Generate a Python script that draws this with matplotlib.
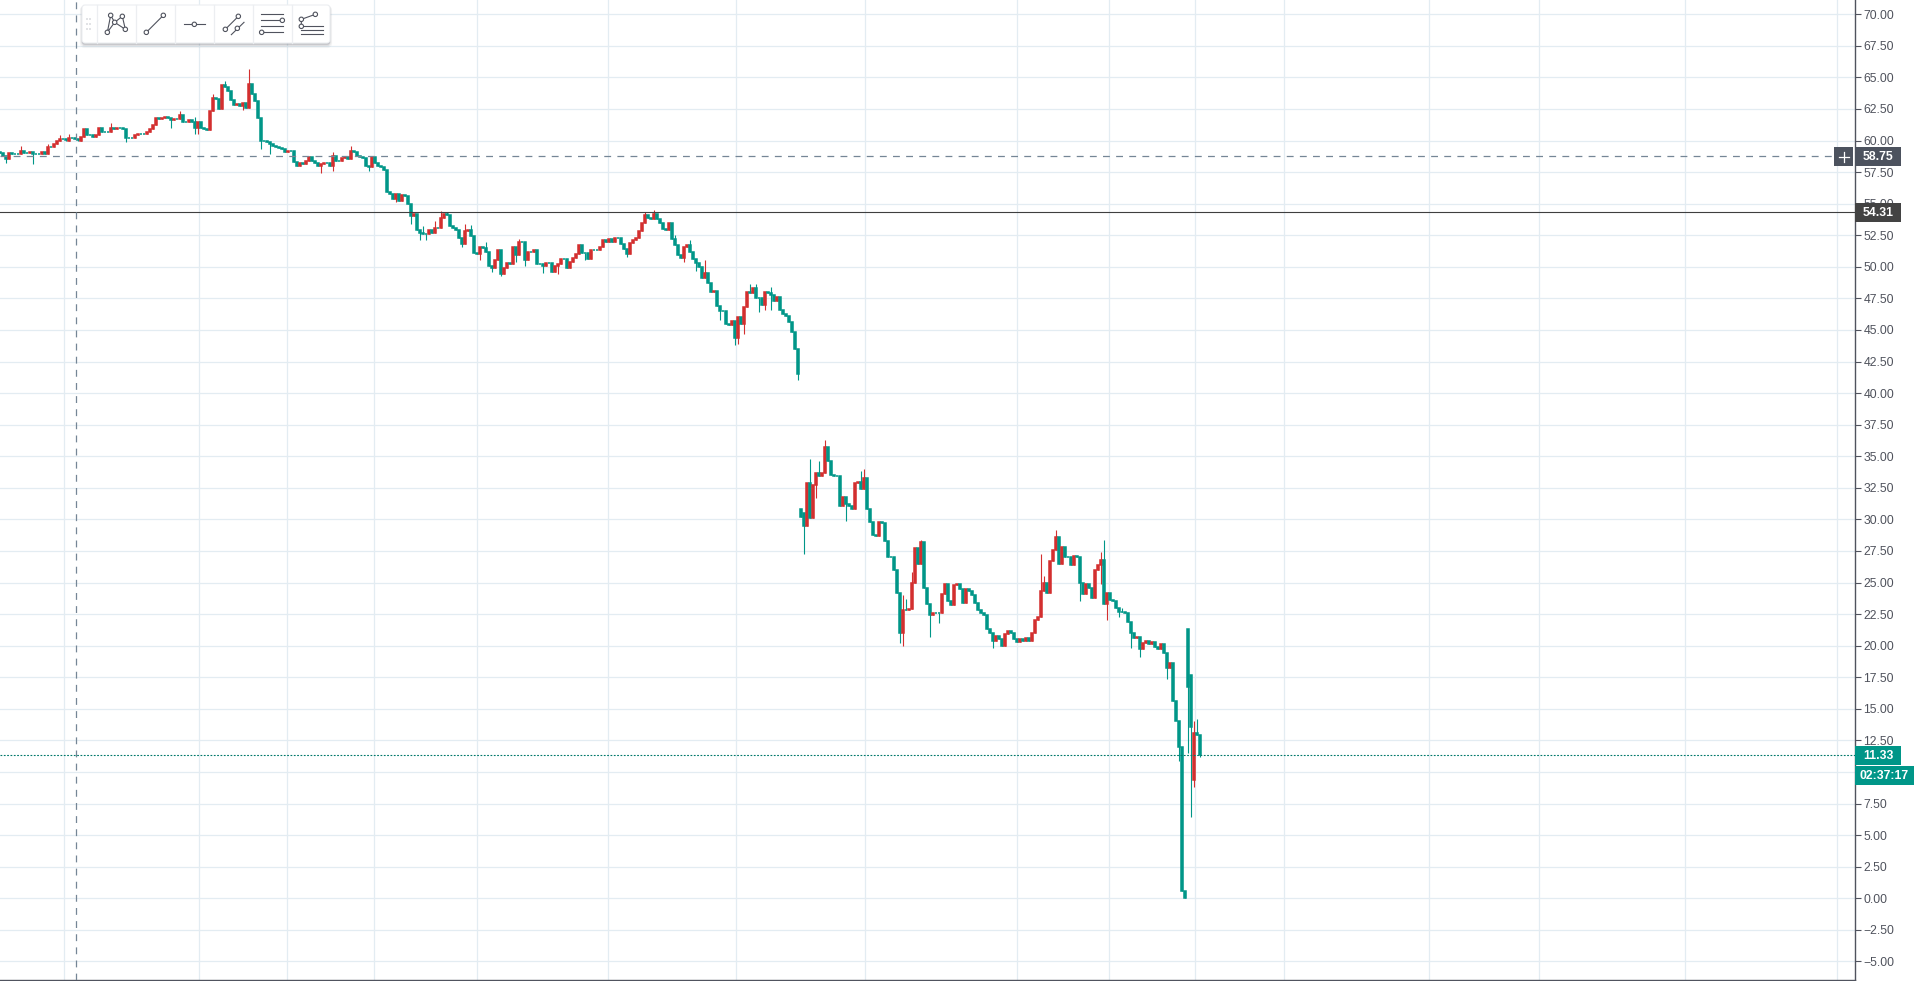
import matplotlib

matplotlib.use("Agg")
import matplotlib.pyplot as plt
import numpy as np
from matplotlib.patches import Circle, FancyBboxPatch, Rectangle

TEAL = "#009688"
RED = "#d32f2f"
GRID = "#e3ecf2"
AXIS = "#50535e"
CROSS = "#758696"

# closes per bar (one bar = 3 screen px)
closes = [
    59.0, 58.8, 58.5, 59.0, 58.9, 58.9, 58.9, 59.2, 59.0, 59.0, 59.1, 58.9, 58.9, 58.9, 59.1, 58.9,
    59.5, 59.5, 59.7, 60.0, 60.1, 60.1, 60.0, 60.2, 60.2, 60.1, 60.0, 60.3, 60.9, 60.4, 60.4, 60.3,
    60.4, 61.0, 60.7, 60.7, 60.7, 61.0, 60.9, 61.0, 61.0, 60.9, 60.2, 60.2, 60.2, 60.4, 60.5,
    60.5, 60.5, 60.7, 60.9, 61.2, 61.8, 61.7, 61.8, 61.9, 61.8, 61.6, 61.7, 61.7, 62.0, 61.5, 61.5,
    61.6, 61.5, 61.0, 61.5, 61.0, 60.9, 60.8, 62.3, 63.4, 63.3, 62.5, 64.4, 64.2, 63.9, 63.2, 62.8,
    62.9, 62.7, 63.0, 62.6, 64.5, 63.7, 63.1, 61.8, 60.0, 60.0, 59.9, 59.7, 59.6, 59.5, 59.4, 59.3, 59.1,
    59.2, 59.2, 58.3, 58.0, 58.2, 58.1, 58.4, 58.7, 58.4, 58.2, 58.0, 58.1, 58.2, 58.2, 58.0, 58.8,
    58.4, 58.4, 58.6, 58.7, 58.5, 59.2, 59.1, 58.8, 58.7, 58.6, 58.0, 57.9, 58.7, 58.2, 58.0, 57.9,
    57.7, 55.9, 55.8, 55.4, 55.8, 55.2, 55.7, 55.6, 55.0, 54.0, 54.2,
    52.9, 52.7, 52.6, 52.6, 52.9, 52.7, 53.1, 53.1, 53.9, 54.2, 54.1, 53.2, 53.1, 52.9, 52.3, 51.8,
    52.8, 52.9, 52.4, 51.1, 51.0, 51.6, 51.5, 51.2, 50.1, 49.9, 50.5, 51.3, 49.4, 49.9, 50.3, 50.2,
    51.6, 50.9, 52.0, 52.0, 50.5, 51.2, 51.2, 51.3, 50.2, 50.2, 50.1, 50.3, 50.3, 49.6, 50.1, 50.2,
    50.6, 50.6, 49.9, 50.4, 50.7, 51.0, 51.7, 51.1, 51.1, 50.6, 51.3, 51.3, 51.3, 51.6, 52.1, 52.0,
    52.2, 52.0, 52.3, 52.3,
    51.8, 51.4, 51.0, 51.9, 52.1, 52.3, 52.8, 53.5, 54.1, 53.9, 53.8, 54.2, 53.8, 53.5, 53.0, 52.9,
    53.5, 52.2, 51.7, 50.9, 50.7, 51.6, 51.7, 51.2, 50.6, 50.3, 50.0, 49.1, 49.5, 48.7, 48.0, 48.1,
    46.9, 46.5, 46.5, 45.5, 45.4, 45.7, 44.4, 46.0, 45.5, 46.8, 48.0, 47.9, 48.3, 47.5, 47.5, 47.0,
    48.0, 47.9, 47.8, 47.3, 47.6, 46.6, 46.3, 46.1, 45.6, 44.8, 43.5, 41.5,
    30.2, 29.5, 32.9, 30.1, 32.7, 33.7, 33.4, 33.7, 35.7, 34.6, 33.5, 33.4, 33.4, 31.1, 31.8, 31.2,
    31.1, 30.8, 32.9, 33.0, 32.4, 33.3, 30.8, 29.8, 28.8, 28.7, 29.8, 29.7, 28.3, 27.0, 27.0, 26.0,
    24.2, 21.0, 22.8, 22.8, 22.9, 25.0, 27.7, 26.5, 28.2, 24.6, 23.3, 22.4, 22.6, 22.6, 22.6, 24.1,
    24.9, 23.5, 23.2, 24.8, 24.9, 24.5, 23.4, 24.5, 24.3, 24.0, 23.4, 22.8, 22.6, 22.4, 21.3, 21.0,
    20.4, 20.8, 20.5, 20.0, 20.9, 21.2, 21.0, 20.5, 20.3, 20.5, 20.4, 20.6, 20.4, 21.0, 22.0, 22.3,
    24.3, 25.0, 24.2, 26.7, 27.6, 28.6, 26.5, 27.8, 27.0, 27.0, 26.4, 27.1, 27.0, 25.0, 24.1, 24.9,
    24.6, 23.8, 26.0, 26.4, 26.8, 23.3, 24.2, 23.6, 23.5, 23.0, 22.7,
    22.7, 22.6, 21.9, 21.0, 20.6, 20.7, 19.7, 20.2, 20.4, 20.1, 20.3, 19.9, 19.7, 20.1, 19.4, 18.2,
    18.6, 15.6, 14.0, 12.0, 0.6, 0.0, 16.7, 13.6, 13.1, 12.9, 11.33,
]
first_open = 59.1
# bars whose open does not sit on the previous close
open_jumps = {267: 30.8, 268: 30.5, 396: 21.3, 397: 17.7, 398: 9.4, 399: 13.1}
# wicks that stick out of the body, bar: price
wick_highs = {
    7: 59.6, 16: 59.7, 20: 60.4, 23: 60.5, 37: 61.4, 60: 62.3, 65: 61.9, 71: 63.7, 75: 64.7, 83: 65.7,
    111: 59.1, 117: 59.6, 141: 53.2, 145: 53.6, 147: 54.4, 149: 54.3, 155: 53.4, 157: 53.3, 162: 52.0,
    173: 52.2, 215: 54.3, 218: 54.5, 225: 52.5, 230: 52.1, 235: 50.5, 250: 48.6, 252: 48.6, 257: 48.4,
    270: 34.8, 273: 34.6, 275: 36.3, 287: 33.8, 288: 34.0, 301: 24.0, 302: 23.7, 304: 25.8, 306: 27.2,
    307: 28.4, 347: 27.3, 348: 25.5, 352: 29.2, 367: 27.4, 368: 28.4, 374: 23.0, 398: 14.0, 399: 14.2,
}
wick_lows = {
    2: 58.2, 11: 58.1, 42: 59.9, 57: 61.0, 65: 60.5, 66: 60.5, 81: 62.4, 87: 59.3, 90: 58.9, 107: 57.4,
    111: 57.6, 123: 57.6, 132: 55.1, 137: 53.4, 140: 52.1, 142: 52.1, 154: 51.6, 160: 50.5, 164: 49.6,
    167: 49.3, 172: 50.4, 175: 50.1, 181: 49.5, 186: 49.4, 195: 50.5, 209: 50.8, 228: 50.4, 232: 49.7,
    240: 45.8, 245: 43.8, 246: 43.9, 248: 44.7, 253: 46.4, 255: 46.6, 257: 46.6, 266: 41.0, 268: 27.3,
    272: 31.7, 282: 29.9, 300: 20.2, 301: 20.0, 310: 20.7, 313: 21.8, 331: 19.8, 360: 23.5, 367: 24.9,
    369: 22.0, 373: 22.3, 377: 19.8, 380: 19.1, 389: 17.4, 392: 14.5, 393: 10.9, 396: 11.5, 397: 6.4,
    398: 8.8, 400: 11.2,
}
price_ticks = np.arange(-5, 70.1, 2.5)
time_grid = [64, 199, 287, 374, 477, 608, 736, 865, 1017, 1109, 1195, 1284, 1429, 1539, 1685, 1837]
cross_price = 58.75
line_price = 54.31
last_price = 11.33
countdown = "02:37:17"

closes = np.array(closes)
opens = np.r_[first_open, closes[:-1]]
for bar, value in open_jumps.items():
    opens[bar] = value
highs = np.maximum(opens, closes)
lows = np.minimum(opens, closes)
for bar, value in wick_highs.items():
    highs[bar] = value
for bar, value in wick_lows.items():
    lows[bar] = value
bars = np.arange(len(closes))
colors = [RED if c > o else TEAL for o, c in zip(opens, closes)]

plt.rcParams["font.family"] = ["Liberation Sans", "DejaVu Sans"]
fig = plt.figure(figsize=(19.18, 9.81), dpi=100)
ax = fig.add_axes([0, 1 / 981, 1854.5 / 1918, 980 / 981])
ax.set_xlim(0, 1854.5 / 3)
ax.set_ylim((898.3 - 980) / 12.63, 898.3 / 12.63)

ax.set_axisbelow(True)
for t in time_grid:
    ax.axvline(t / 3, color=GRID, lw=0.9, zorder=0)
for p in price_ticks:
    ax.axhline(p, color=GRID, lw=0.9, zorder=0)

ax.vlines(bars, lows, highs, colors=colors, lw=0.8, zorder=2)
# the edge keeps small bodies as thick as the ones in the chart
ax.bar(bars, closes - opens, bottom=opens, width=0.8, color=colors, edgecolor=colors, lw=1.1, zorder=3)

ax.axhline(line_price, color="#3f3f3f", lw=0.8, zorder=4)
ax.axhline(last_price, color="#00796b", lw=0.8, ls=(0, (1.6, 1.4)), zorder=4)
ax.plot([0, 1834 / 3], [cross_price, cross_price], color=CROSS, lw=0.9, ls=(0, (5.5, 5)), zorder=4)
ax.axvline(75.5 / 3, color=CROSS, lw=0.9, ls=(0, (5.5, 5)), zorder=4)

ax.yaxis.tick_right()
ax.set_yticks(price_ticks)
ax.set_yticklabels([f"{p:.2f}".replace("-", "\u2212") for p in price_ticks])
ax.tick_params(axis="y", length=4, width=0.8, color=AXIS, labelcolor="#4f525c", labelsize=8.8, pad=2.4)
ax.set_xticks([])
for side in ("top", "left"):
    ax.spines[side].set_visible(False)
for side in ("right", "bottom"):
    ax.spines[side].set_color(AXIS)
    ax.spines[side].set_linewidth(1.0)

# overlay in screen pixels for the price tags and the drawing toolbar
ov = fig.add_axes([0, 0, 1, 1], facecolor="none")
ov.set_xlim(0, 1918)
ov.set_ylim(981, 0)
ov.axis("off")


def tag(text, y0, y1, color, x0=1855, x1=1901, tx=1863):
    ov.add_patch(Rectangle((x0, y0), x1 - x0, y1 - y0, color=color, lw=0, zorder=5))
    ov.text(tx, (y0 + y1) / 2 + 0.3, text, color="white", fontsize=8.8, fontweight="bold",
            va="center", ha="left", zorder=6)


tag(f"{cross_price:.2f}", 147, 166, "#4c525e")
tag(f"{line_price:.2f}", 203, 222, "#434343")
tag(f"{last_price:.2f}", 746, 765, TEAL)
tag(countdown, 766, 785, TEAL, x1=1914, tx=1859)

ov.add_patch(Rectangle((1834, 147), 19, 19, color="#4c525e", lw=0, zorder=5))
ov.plot([1843.5, 1843.5], [151.5, 161.5], color="white", lw=0.9, zorder=6)
ov.plot([1838.5, 1848.5], [156.5, 156.5], color="white", lw=0.9, zorder=6)

# toolbar
for off, alpha in ((3, 0.05), (2, 0.08), (1, 0.12)):
    ov.add_patch(FancyBboxPatch((82, 6 + off / 2), 248, 37 + off / 2, boxstyle="round,pad=0,rounding_size=3",
                                fc="#50535e", ec="#50535e", lw=off, alpha=alpha, zorder=7))
ov.add_patch(FancyBboxPatch((82, 5), 248, 38, boxstyle="round,pad=0,rounding_size=3", fc="white",
                            ec="#eceef1", lw=0.8, zorder=8))
for sx in (96.7, 135.7, 174.7, 213.7, 252.7, 291.7):
    ov.plot([sx, sx], [5, 43], color="#eceef1", lw=0.9, zorder=9)
for gx in (87, 90.3):
    for gy in (19.3, 24, 28.7):
        ov.add_patch(Rectangle((gx - 1, gy - 1), 2, 2, color="#e2e3e6", lw=0, zorder=9))

icon_lines = [
    [(322, 97), (332, 46), (344, 67), (376, 88), (367, 49), (344, 67), (322, 97)],
    [(439, 97), (490, 46)],
    [(552, 73), (615, 73)],
    [(676, 88), (715, 49)],
    [(694, 104), (732, 67)],
    [(783, 43), (849, 43)],
    [(783, 61), (849, 61)],
    [(783, 79), (849, 79)],
    [(785, 97), (849, 97)],
    [(904, 79), (904, 58), (946, 43)],
    [(904, 79), (969, 79)],
    [(904, 91), (969, 91)],
    [(904, 103), (969, 103)],
]
icon_dots = [(322, 97), (332, 46), (344, 67), (367, 49), (376, 88), (439, 97), (490, 46), (583, 73), (676, 88),
             (715, 49), (712, 85), (847, 61), (785, 97), (904, 58), (946, 43), (904, 79)]
for line in icon_lines:
    xs, ys = zip(*line)
    ov.plot(np.array(xs) / 3, np.array(ys) / 3, color=AXIS, lw=0.8, zorder=10)
for dx, dy in icon_dots:
    ov.add_patch(Circle((dx / 3, dy / 3), 2.2, fc="white", ec=AXIS, lw=0.8, zorder=11))

fig.savefig("out.png", dpi=100, facecolor="white")
